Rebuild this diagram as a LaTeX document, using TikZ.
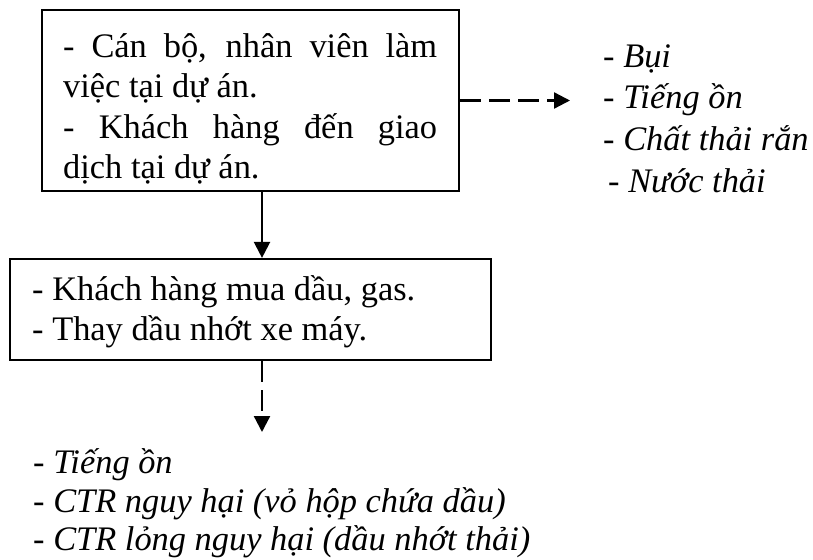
\documentclass[tikz,border=0pt]{standalone}
\usepackage{fontspec}
\setmainfont{Liberation Serif}
\usetikzlibrary{arrows.meta}
\begin{document}
\begin{tikzpicture}[x=1pt,y=-1pt,
  every node/.style={font=\fontsize{34.4pt}{40pt}\selectfont},
  boxnode/.style={draw, line width=2.2pt, inner sep=0pt},
  txt/.style={anchor=base west, inner sep=0pt},
  itxt/.style={anchor=base west, inner sep=0pt, font=\fontsize{34.4pt}{40pt}\selectfont\itshape},
  conn/.style={line width=2.3pt, -{Triangle[length=16pt,width=16pt]}},
  dconn/.style={conn, dash pattern=on 21pt off 8pt}]
\useasboundingbox (0,0) rectangle (813,559);
% boxes
\node[boxnode, minimum width=417pt, minimum height=181pt] (box1) at (250.5,100.5) {};
\node[boxnode, minimum width=481pt, minimum height=101pt] (box2) at (250.5,309.5) {};
% box 1 text
\node[txt] (b1l1) at (63,58) {\makebox[374pt][s]{- Cán bộ, nhân viên làm}};
\node[txt] (b1l2) at (63,98) {việc tại dự án.};
\node[txt] (b1l3) at (63,138) {\makebox[374pt][s]{- Khách hàng đến giao}};
\node[txt] (b1l4) at (63,178) {dịch tại dự án.};
% box 2 text
\node[txt] (b2l1) at (32,300) {- Khách hàng mua dầu, gas.};
\node[txt] (b2l2) at (32,340) {- Thay dầu nhớt xe máy.};
% right list
\node[itxt] (r1) at (603,68) {- Bụi};
\node[itxt] (r2) at (603,109) {- Tiếng ồn};
\node[itxt] (r3) at (603,150) {- Chất thải rắn};
\node[itxt] (r4) at (608,192) {- Nước thải};
% bottom list
\node[itxt] (d1) at (33,473) {- Tiếng ồn};
\node[itxt] (d2) at (33,512) {- CTR nguy hại (vỏ hộp chứa dầu)};
\node[itxt] (d3) at (33,550) {- CTR lỏng nguy hại (dầu nhớt thải)};
% connectors
\coordinate (ax) at (262,0);
\coordinate (tipR) at (570,100.5);
\coordinate (tipD) at (262,432);
\draw[conn] (box1.south -| ax) -- (box2.north -| ax);
\draw[dconn] (box1.east) -- (tipR);
\draw[dconn] (box2.south -| ax) -- (tipD);
\end{tikzpicture}
\end{document}
